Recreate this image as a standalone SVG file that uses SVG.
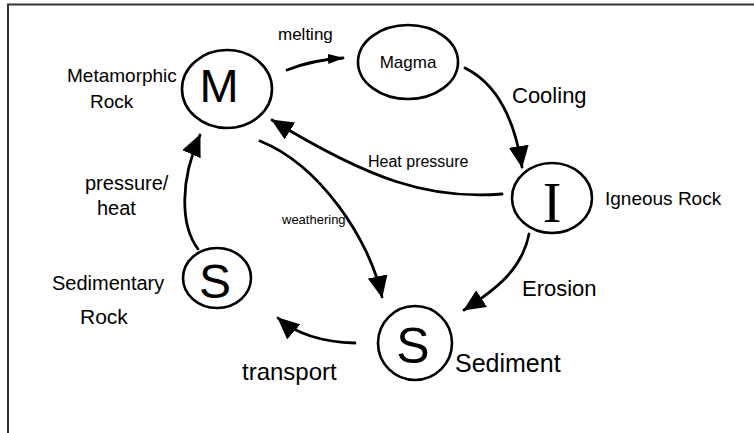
<svg xmlns="http://www.w3.org/2000/svg" width="754" height="433" viewBox="0 0 754 433">
  <style>
    .frame { fill: none; stroke: #333; stroke-width: 2; }
    .node { fill: none; stroke: #000; stroke-width: 2.6; }
    .edge { fill: none; stroke: #000; stroke-width: 2.8; stroke-linecap: round; }
    .lbl { font-family: "Liberation Sans", Arial, sans-serif; fill: #000; }
    .glyph { font-family: "Liberation Sans", Arial, sans-serif; fill: #000; text-anchor: middle; }
  </style>
  <defs>
    <marker id="head" viewBox="0 0 22 20" refX="21" refY="10" markerWidth="22" markerHeight="20" markerUnits="userSpaceOnUse" orient="auto">
      <path d="M0,0 L22,10 L0,20 Z" fill="#000"/>
    </marker>
    <marker id="headSmall" viewBox="0 0 16 10" refX="15" refY="5" markerWidth="16" markerHeight="10" markerUnits="userSpaceOnUse" orient="auto">
      <path d="M0,0 L16,5 L0,10 Z" fill="#000"/>
    </marker>
  </defs>
  <rect width="754" height="433" fill="#fff"/>
  <rect class="frame" x="8" y="4.5" width="760" height="440"/>

  <g id="node-metamorphic">
    <ellipse class="node" cx="227" cy="89" rx="45" ry="39"/>
    <text class="glyph" x="219" y="102" font-size="47">M</text>
    <text class="lbl" x="67" y="82" font-size="19">Metamorphic</text>
    <text class="lbl" x="90" y="108" font-size="19">Rock</text>
  </g>

  <g id="node-magma">
    <ellipse class="node" cx="408" cy="62" rx="50" ry="37"/>
    <text class="lbl" x="408" y="68" font-size="17" text-anchor="middle">Magma</text>
  </g>

  <g id="node-igneous">
    <ellipse class="node" cx="552" cy="198" rx="40" ry="35"/>
    <text class="glyph" x="552" y="222" font-size="56" font-family="Liberation Serif, serif" style="font-family:'Liberation Serif',serif">I</text>
    <text class="lbl" x="605" y="205" font-size="19">Igneous Rock</text>
  </g>

  <g id="node-sediment">
    <ellipse class="node" cx="415" cy="343" rx="37" ry="37"/>
    <text class="glyph" x="413" y="363" font-size="50">S</text>
    <text class="lbl" x="455" y="372" font-size="25">Sediment</text>
  </g>

  <g id="node-sedimentary">
    <ellipse class="node" cx="217" cy="278" rx="34" ry="30"/>
    <text class="glyph" x="215" y="298" font-size="48">S</text>
    <text class="lbl" x="52" y="290" font-size="20">Sedimentary</text>
    <text class="lbl" x="80" y="324" font-size="21">Rock</text>
  </g>

  <g id="connectors">
    <path class="edge" d="M287,70 Q312,60 343,58" marker-end="url(#headSmall)"/>
    <text class="lbl" x="278" y="40" font-size="17">melting</text>

    <path class="edge" d="M465,68 Q510,90 522,167" marker-end="url(#head)"/>
    <text class="lbl" x="512" y="103" font-size="22">Cooling</text>

    <path class="edge" d="M502,194 C430,200 370,180 272,120" marker-end="url(#head)"/>
    <text class="lbl" x="368" y="167" font-size="16">Heat pressure</text>

    <path class="edge" d="M260,141 C320,165 370,240 382,297" marker-end="url(#head)"/>
    <text class="lbl" x="282" y="224" font-size="13">weathering</text>

    <path class="edge" d="M529,234 C522,270 495,290 464,310" marker-end="url(#head)"/>
    <text class="lbl" x="522" y="296" font-size="22">Erosion</text>

    <path class="edge" d="M355,343 C320,342 295,333 278,318" marker-end="url(#head)"/>
    <text class="lbl" x="242" y="380" font-size="24">transport</text>

    <path class="edge" d="M198,249 C180,225 180,180 200,135" marker-end="url(#head)"/>
    <text class="lbl" x="85" y="190" font-size="20">pressure/</text>
    <text class="lbl" x="97" y="215" font-size="20">heat</text>
  </g>
</svg>
